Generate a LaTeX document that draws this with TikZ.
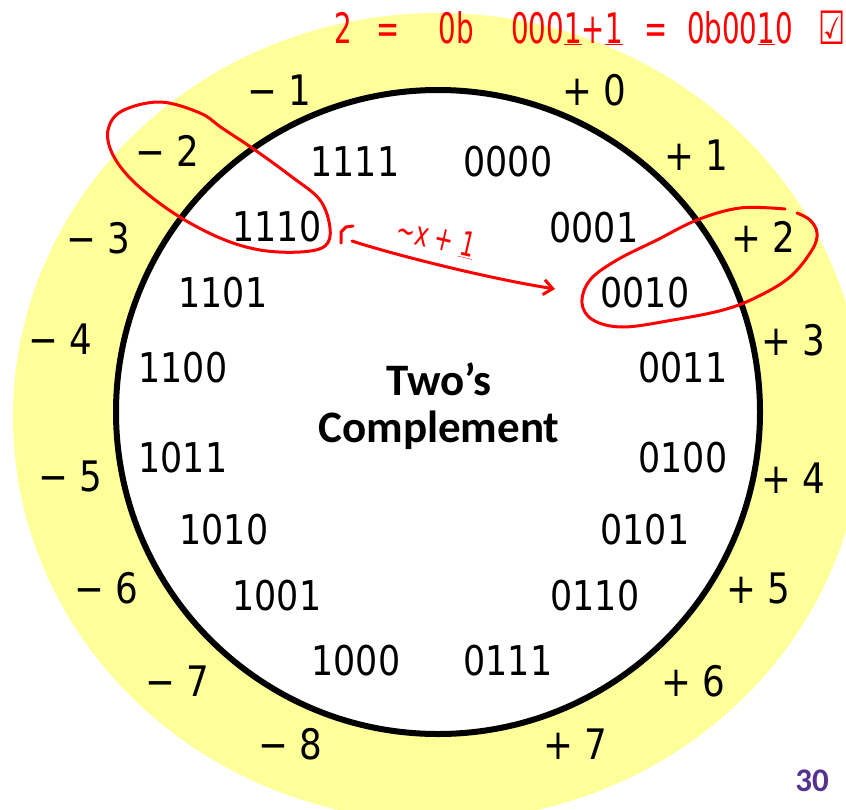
\documentclass[tikz,border=0pt]{standalone}
\usepackage{fontspec}
\setmainfont{DejaVu Sans}[FakeStretch=0.85]
\newfontfamily\calib{Carlito}
\newfontfamily\handf{DejaVu Sans}[FakeStretch=0.66]
\usetikzlibrary{arrows.meta}
\definecolor{ringyellow}{RGB}{255,255,153}
\definecolor{slidepurple}{RGB}{84,50,141}
\definecolor{inkred}{RGB}{255,0,0}
\begin{document}
\begin{tikzpicture}[x=1pt,y=-1pt,
  bin/.style={inner sep=0pt, font=\fontsize{41}{49}\selectfont},
  lab/.style={inner sep=0pt, font=\fontsize{42}{50}\selectfont},
  ttl/.style={inner sep=0pt, anchor=base, font=\calib\bfseries\fontsize{45}{54}\selectfont},
  ink/.style={draw=inkred, line width=3pt, line cap=round, line join=round},
  handtxt/.style={inner sep=0pt, text=inkred, font=\handf\fontsize{42}{50}\selectfont},
  handtop/.style={handtxt, anchor=base}]
\useasboundingbox (0,0) rectangle (846,809);
\clip (0,0) rectangle (846,809);
% rings
\fill[ringyellow] (438,417) ellipse [x radius=425, y radius=404];
\draw[fill=white, line width=6pt] (438,412) circle [radius=322];
% binary codes
\node[bin] (b1111) at (355,162) {1111};
\node[bin] (b0000) at (508,162) {0000};
\node[bin] (b0001) at (594,228) {0001};
\node[bin] (b0010) at (645,293) {0010};
\node[bin] (b0011) at (683,368) {0011};
\node[bin] (b0100) at (683,458) {0100};
\node[bin] (b0101) at (645,530) {0101};
\node[bin] (b0110) at (595,596) {0110};
\node[bin] (b0111) at (508,661) {0111};
\node[bin] (b1000) at (356,661) {1000};
\node[bin] (b1001) at (277,596) {1001};
\node[bin] (b1010) at (224,530) {1010};
\node[bin] (b1011) at (183,458) {1011};
\node[bin] (b1100) at (183,368) {1100};
\node[bin] (b1101) at (223,293) {1101};
\node[bin] (b1110) at (277,227) {1110};
% signed values
\node[lab] (p0) at (594,90) {+ 0};
\node[lab] (p1) at (696,155) {+ 1};
\node[lab] (p2) at (763,237) {+ 2};
\node[lab] (p3) at (793,340) {+ 3};
\node[lab] (p4) at (793,478) {+ 4};
\node[lab] (p5) at (758,588) {+ 5};
\node[lab] (p6) at (693,681) {+ 6};
\node[lab] (p7) at (575,744) {+ 7};
\node[lab] (m1) at (279,90) {− 1};
\node[lab] (m2) at (167,151) {− 2};
\node[lab] (m3) at (98,238) {− 3};
\node[lab] (m4) at (60,339) {− 4};
\node[lab] (m5) at (70,476) {− 5};
\node[lab] (m6) at (106,588) {− 6};
\node[lab] (m7) at (177,681) {− 7};
\node[lab] (m8) at (290,744) {− 8};
% title
\node[ttl] (t1) at (439,395) {Two’s};
\node[ttl] (t2) at (439,442) {Complement};
% page number
\node[inner sep=0pt, text=slidepurple, font=\calib\bfseries\fontsize{33}{40}\selectfont] (pg) at (812,781) {30};
% red annotations
\draw[ink] plot[smooth cycle, tension=0.6] coordinates {(160,102) (200,113) (222,128) (255,150) (292,177) (320,200) (330,228) (325,246) (300,252) (260,250) (220,238) (175,214) (135,183) (113,155) (108,130) (122,111)};
\draw[ink] plot[smooth, tension=0.6] coordinates {(785,209) (740,208) (697,220) (657,240) (617,260) (590,280) (582,303) (593,320) (623,327) (673,320) (723,310) (757,297) (790,277) (812,250) (817,233) (810,220) (797,213)};
\draw[ink] (341,243) -- (341,232) -- (346,227) -- (353,226);
\coordinate (aS) at (352,241);
\coordinate (aE) at (555,289);
\draw[ink, -{Straight Barb[length=9pt,width=15pt]}] (aS) .. controls (385,252) and (480,277) .. (aE);
\node[handtxt, font=\handf\fontsize{34}{40}\selectfont, rotate=-13] (note) at (436,238) {\textasciitilde x + \underline{1}};
\node[handtop] (h1) at (343,43) {2};
\node[handtop] (h2) at (388,43) {=};
\node[handtop] (h3) at (456,43) {0b};
\node[handtop] (h4) at (567,43) {000\underline{1}+\underline{1}};
\node[handtop] (h5) at (656,43) {=};
\node[handtop] (h6) at (740,43) {0b00\underline{1}0};
\node[handtop, font=\handf\fontsize{46}{50}\selectfont] (h7) at (832,44) {☑};
\end{tikzpicture}
\end{document}
